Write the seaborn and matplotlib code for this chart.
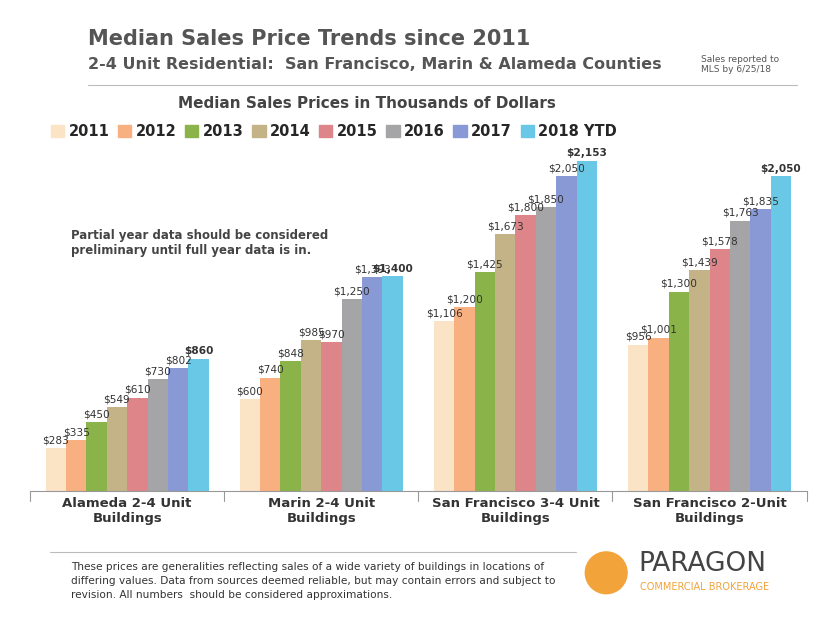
import numpy as np
import pandas as pd
import seaborn as sns
import matplotlib.pyplot as plt
from matplotlib.patches import Ellipse

categories = ["Alameda 2-4 Unit\nBuildings", "Marin 2-4 Unit\nBuildings",
              "San Francisco 3-4 Unit\nBuildings", "San Francisco 2-Unit\nBuildings"]
years = ["2011", "2012", "2013", "2014", "2015", "2016", "2017", "2018 YTD"]
alameda = [283, 335, 450, 549, 610, 730, 802, 860]
marin = [600, 740, 848, 985, 970, 1250, 1393, 1400]
sf_34 = [1106, 1200, 1425, 1673, 1800, 1850, 2050, 2153]
sf_2 = [956, 1001, 1300, 1439, 1578, 1763, 1835, 2050]
colors = ["#FBE3C6", "#F8B080", "#8AB34A", "#C4B386", "#DE8589",
          "#A5A5A8", "#8899D6", "#69C8E6"]

rows = []
for cat, vals in zip(categories, [alameda, marin, sf_34, sf_2]):
    for y, v in zip(years, vals):
        rows.append({"cat": cat, "year": y, "price": v})
df = pd.DataFrame(rows)

sns.set_style("white")
plt.rcParams['font.family'] = ['DejaVu Sans']
fig = plt.figure(figsize=(8.35, 6.26), dpi=100)
ax = fig.add_axes([0.036, 0.215, 0.93, 0.54])
sns.barplot(data=df, x="cat", y="price", hue="year", palette=colors,
            width=0.84, ax=ax, edgecolor="none", legend=False, saturation=1)

for i, cont in enumerate(ax.containers):
    labels = ["$" + format(int(b.get_height()), ",") for b in cont]
    ax.bar_label(cont, labels=labels, padding=2, fontsize=7.6,
                 fontweight="bold" if i == len(years) - 1 else "normal",
                 color="#333333")

ax.set_ylim(0, 2200)
ax.set_xlim(-0.5, 3.5)
ax.set_yticks([])
ax.set_xlabel("")
ax.set_ylabel("")
for s in ["top", "right", "left"]:
    ax.spines[s].set_visible(False)
ax.spines["bottom"].set_color("#999999")
ax.set_xticks([0, 1, 2, 3])
ax.set_xticklabels(categories, fontsize=9.5, fontweight="bold", color="#333333")
ax.tick_params(axis="x", length=0, pad=4)
for xb in [-0.5, 0.5, 1.5, 2.5, 3.5]:
    ax.plot([xb, xb], [0, -60], color="#999999", lw=0.8, clip_on=False)

handles = [plt.Rectangle((0, 0), 1, 1, color=c) for c in colors]
fig.legend(handles, years, loc="center", bbox_to_anchor=(0.4, 0.79), ncol=8,
           frameon=False, handlelength=0.9, handleheight=0.9, columnspacing=0.6,
           handletextpad=0.3, prop={"weight": "bold", "size": 10.5})

fig.text(0.105, 0.928, "Median Sales Price Trends since 2011", fontsize=15,
         fontweight="bold", color="#555555")
fig.text(0.105, 0.889, "2-4 Unit Residential:  San Francisco, Marin & Alameda Counties",
         fontsize=11.5, fontweight="bold", color="#555555")
fig.text(0.84, 0.885, "Sales reported to\nMLS by 6/25/18", fontsize=6.5, color="#555555")
fig.add_artist(plt.Line2D([0.105, 0.955], [0.865, 0.865], color="#bbbbbb", lw=0.8))
fig.text(0.44, 0.828, "Median Sales Prices in Thousands of Dollars", fontsize=11,
         fontweight="bold", color="#444444", ha="center")
fig.text(0.085, 0.595, "Partial year data should be considered\npreliminary until full year data is in.",
         fontsize=8.5, fontweight="bold", color="#444444")

fig.add_artist(plt.Line2D([0.06, 0.69], [0.118, 0.118], color="#bbbbbb", lw=0.8))
fig.text(0.085, 0.045, "These prices are generalities reflecting sales of a wide variety of buildings in locations of\n"
         "differing values. Data from sources deemed reliable, but may contain errors and subject to\n"
         "revision. All numbers  should be considered approximations.",
         fontsize=7.6, color="#333333", linespacing=1.5)
fig.add_artist(Ellipse((0.726, 0.085), 0.05, 0.05 * 8.35 / 6.26,
                       transform=fig.transFigure, color="#F2A33A"))
fig.text(0.765, 0.088, "PARAGON", fontsize=19, color="#444444")
fig.text(0.767, 0.058, "COMMERCIAL BROKERAGE", fontsize=7, color="#F2A33A")

fig.savefig("out.png", dpi=100)
